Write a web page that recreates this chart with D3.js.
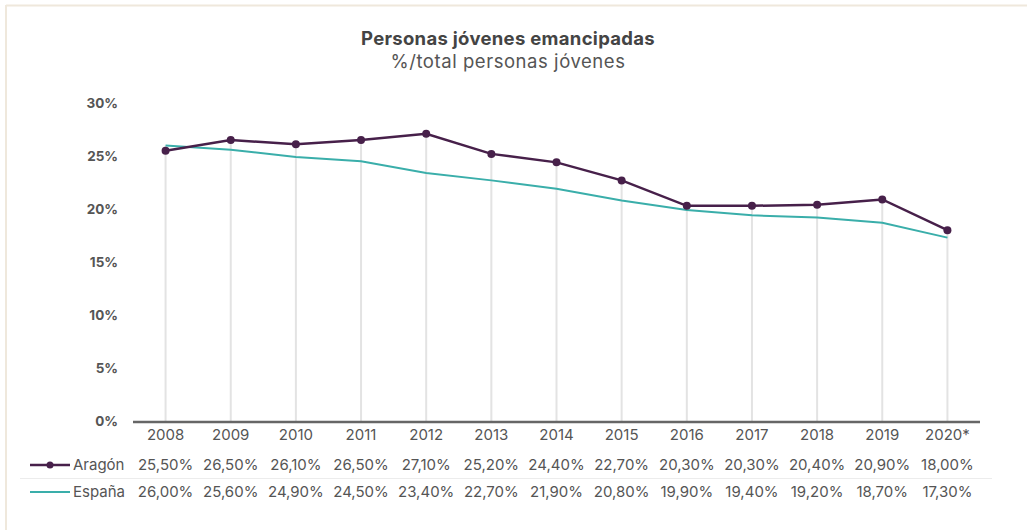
<!DOCTYPE html>
<html>
<head>
<meta charset="utf-8">
<script src="https://cdn.jsdelivr.net/npm/d3@7"></script>
<style>
  body { margin: 0; background: #fff; }
  svg { display: block; font-family: Inter, Roboto, "Noto Sans", sans-serif; }
</style>
</head>
<body>
<div id="chart"></div>
<script>
// data
var years = ["2008", "2009", "2010", "2011", "2012", "2013", "2014", "2015", "2016", "2017", "2018", "2019", "2020*"];
var aragon = [25.5, 26.5, 26.1, 26.5, 27.1, 25.2, 24.4, 22.7, 20.3, 20.3, 20.4, 20.9, 18.0];
var espana = [26.0, 25.6, 24.9, 24.5, 23.4, 22.7, 21.9, 20.8, 19.9, 19.4, 19.2, 18.7, 17.3];
var yTicks = [0, 5, 10, 15, 20, 25, 30];

var W = 1027, H = 530;
var purple = "#47204a", teal = "#3aaeaa";

var svg = d3.select("#chart").append("svg")
    .attr("width", W)
    .attr("height", H);

// frame
svg.append("rect").attr("x", 0).attr("y", 0).attr("width", W).attr("height", H).attr("fill", "#fff");
svg.append("line").attr("x1", 6).attr("x2", W).attr("y1", 5.5).attr("y2", 5.5)
    .attr("stroke", "#efe8dc").attr("stroke-width", 2);
svg.append("line").attr("x1", 6).attr("x2", 6).attr("y1", 5).attr("y2", H)
    .attr("stroke", "#efe8dc").attr("stroke-width", 2);

// titles
svg.append("text").attr("x", 508).attr("y", 45).attr("text-anchor", "middle")
    .attr("font-size", 18.5).attr("font-weight", "bold").attr("fill", "#444")
    .attr("letter-spacing", 0.3)
    .text("Personas jóvenes emancipadas");
svg.append("text").attr("x", 508).attr("y", 68).attr("text-anchor", "middle")
    .attr("font-size", 18.5).attr("fill", "#555")
    .attr("letter-spacing", 0.55)
    .text("%/total personas jóvenes");

// scales
var xScale = d3.scaleBand()
    .domain(years)
    .range([133, 980]);

var yScale = d3.scaleLinear()
    .domain([0, 30])
    .range([421, 103]);

var cx = function(d, i) { return xScale(years[i]) + xScale.bandwidth() / 2; };

// y axis labels
svg.append("g")
    .attr("transform", "translate(118,0)")
    .call(d3.axisLeft(yScale).tickValues(yTicks).tickSize(0).tickPadding(0)
        .tickFormat(function(d) { return d + "%"; }))
    .call(function(g) { g.select(".domain").remove(); })
    .selectAll("text")
    .attr("font-size", 13.5).attr("font-weight", "bold").attr("fill", "#555")
    .attr("font-family", "Inter, Roboto, sans-serif")
    .attr("dy", "0.32em");

// drop lines
svg.selectAll(".drop")
    .data(years)
    .enter().append("line")
    .attr("class", "drop")
    .attr("x1", function(d, i) { return cx(d, i); })
    .attr("x2", function(d, i) { return cx(d, i); })
    .attr("y1", function(d, i) { return yScale(Math.max(aragon[i], espana[i])); })
    .attr("y2", yScale(0))
    .attr("stroke", "#e3e3e3").attr("stroke-width", 2);

// x axis line
svg.append("line")
    .attr("x1", 133).attr("x2", 980)
    .attr("y1", yScale(0) + 1).attr("y2", yScale(0) + 1)
    .attr("stroke", "#666").attr("stroke-width", 2.5);

// lines
var line = d3.line()
    .x(function(d, i) { return cx(d, i); })
    .y(function(d) { return yScale(d); });

svg.append("path").datum(espana)
    .attr("d", line).attr("fill", "none")
    .attr("stroke", teal).attr("stroke-width", 2);

svg.append("path").datum(aragon)
    .attr("d", line).attr("fill", "none")
    .attr("stroke", purple).attr("stroke-width", 2.5);

svg.selectAll(".dot")
    .data(aragon)
    .enter().append("circle")
    .attr("class", "dot")
    .attr("cx", function(d, i) { return cx(d, i); })
    .attr("cy", function(d) { return yScale(d); })
    .attr("r", 4)
    .attr("fill", purple);

// data table
var fmt = function(v) { return v.toFixed(2).replace(".", ",") + "%"; };
var textColor = "#555";

svg.selectAll(".year")
    .data(years)
    .enter().append("text")
    .attr("class", "year")
    .attr("x", function(d, i) { return cx(d, i); })
    .attr("y", 440)
    .attr("text-anchor", "middle")
    .attr("font-size", 15).attr("fill", textColor)
    .text(function(d) { return d; });

var rows = [
    {name: "Aragón", values: aragon, color: purple, dot: true, y: 470},
    {name: "España", values: espana, color: teal, dot: false, y: 497}
];

rows.forEach(function(r) {
    var g = svg.append("g");
    g.append("line").attr("x1", 30).attr("x2", 70)
        .attr("y1", r.y - 5).attr("y2", r.y - 5)
        .attr("stroke", r.color).attr("stroke-width", r.dot ? 2.5 : 2);
    if (r.dot) {
        g.append("circle").attr("cx", 50).attr("cy", r.y - 5).attr("r", 3.5).attr("fill", r.color);
    }
    g.append("text").attr("x", 73).attr("y", r.y)
        .attr("font-size", 15).attr("fill", textColor).text(r.name);
    g.selectAll(".val")
        .data(r.values)
        .enter().append("text")
        .attr("class", "val")
        .attr("x", function(d, i) { return cx(d, i); })
        .attr("y", r.y)
        .attr("text-anchor", "middle")
        .attr("font-size", 15).attr("fill", textColor)
        .text(function(d) { return fmt(d); });
});

svg.append("line").attr("x1", 20).attr("x2", 992)
    .attr("y1", 478.5).attr("y2", 478.5)
    .attr("stroke", "#ececec").attr("stroke-width", 1);
</script>
</body>
</html>
